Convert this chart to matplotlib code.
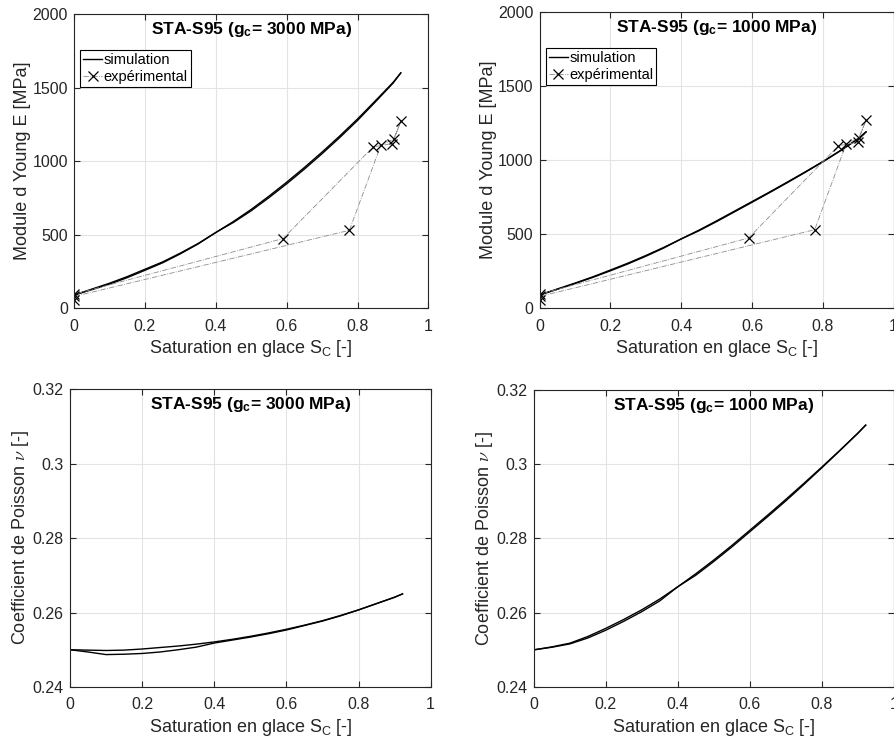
import matplotlib.pyplot as plt
import numpy as np

plt.rcParams['font.family'] = ['Liberation Sans', 'DejaVu Sans']
plt.rcParams['mathtext.fontset'] = 'cm'

# saturation grid for the simulations
S_sim = [0, 0.05, 0.1, 0.15, 0.2, 0.25, 0.3, 0.35, 0.4, 0.45, 0.5,
         0.55, 0.6, 0.65, 0.7, 0.75, 0.8, 0.85, 0.9, 0.922]

# Young modulus, gc = 3000 MPa (freezing / thawing branch)
E3000_a = [90, 130, 170, 215, 265, 315, 375, 440, 515, 590, 672,
           762, 857, 957, 1062, 1172, 1287, 1410, 1535, 1600]
E3000_b = [90, 126, 164, 208, 258, 309, 370, 437, 515, 584, 663,
           752, 846, 946, 1051, 1161, 1277, 1402, 1530, 1600]

# Young modulus, gc = 1000 MPa
E1000_a = [90, 130, 170, 212, 258, 305, 356, 410, 468, 527, 590,
           655, 720, 785, 852, 920, 990, 1065, 1145, 1190]
E1000_b = [90, 128, 167, 208, 253, 300, 351, 406, 468, 523, 585,
           650, 715, 781, 848, 917, 988, 1063, 1144, 1190]

# Poisson ratio, gc = 3000 MPa
nu3000_a = [0.25, 0.2499, 0.2498, 0.2499, 0.2502, 0.2506, 0.2510, 0.2515, 0.2521, 0.2528, 0.2536,
            0.2545, 0.2555, 0.2566, 0.2578, 0.2592, 0.2607, 0.2624, 0.2641, 0.2650]
nu3000_b = [0.25, 0.2494, 0.2487, 0.2488, 0.2490, 0.2494, 0.2500, 0.2507, 0.2518, 0.2526, 0.2534,
            0.2543, 0.2553, 0.2565, 0.2577, 0.2591, 0.2607, 0.2624, 0.2641, 0.2650]

# Poisson ratio, gc = 1000 MPa
nu1000_a = [0.25, 0.2508, 0.2518, 0.2536, 0.2558, 0.2582, 0.2608, 0.2637, 0.2670, 0.2705, 0.2742,
            0.2781, 0.2822, 0.2863, 0.2905, 0.2948, 0.2992, 0.3037, 0.3083, 0.3105]
nu1000_b = [0.25, 0.2507, 0.2516, 0.2532, 0.2553, 0.2577, 0.2603, 0.2632, 0.2670, 0.2701, 0.2738,
            0.2777, 0.2818, 0.2859, 0.2901, 0.2945, 0.2990, 0.3036, 0.3083, 0.3105]

# experimental points (path order of the test)
S_exp = [0, 0, 0.59, 0.844, 0.898, 0.922, 0.902, 0.866, 0.777, 0]
E_exp = [55, 95, 474, 1097, 1120, 1270, 1150, 1110, 530, 80]

titles = ['STA-S95 (g$\\mathregular{_c}$= 3000 MPa)', 'STA-S95 (g$\\mathregular{_c}$= 1000 MPa)']
xlab = 'Saturation en glace S$\\mathregular{_C}$ [-]'

fig = plt.figure(figsize=(8.95, 7.41), dpi=100)
ax1 = fig.add_axes([0.0827, 0.584, 0.396, 0.397])
ax2 = fig.add_axes([0.603, 0.584, 0.3955, 0.400])
ax3 = fig.add_axes([0.0782, 0.0729, 0.403, 0.402])
ax4 = fig.add_axes([0.5966, 0.0729, 0.402, 0.401])

def style(ax, title):
    ax.grid(True, color='#e3e3e3', lw=0.8)
    ax.set_axisbelow(True)
    ax.tick_params(direction='in', top=True, right=True, labelsize=11.5,
                   colors='#262626', length=4)
    ax.tick_params(axis='x', pad=7.5)
    ax.tick_params(axis='y', pad=4.5)
    for s in ax.spines.values():
        s.set_color('#262626')
        s.set_linewidth(0.8)
    ax.text(0.5, 0.98, title, transform=ax.transAxes, ha='center', va='top',
            fontsize=12.5, fontweight='bold')
    ax.set_xlim(0, 1)
    ax.set_xticks([0, 0.2, 0.4, 0.6, 0.8, 1])
    ax.set_xticklabels(['0', '0.2', '0.4', '0.6', '0.8', '1'])
    ax.set_xlabel(xlab, fontsize=13, color='#262626', labelpad=3)

for ax, Ea, Eb, t in [(ax1, E3000_a, E3000_b, titles[0]), (ax2, E1000_a, E1000_b, titles[1])]:
    ax.plot(S_sim, Ea, color='k', lw=1, label='simulation')
    ax.plot(S_sim, Eb, color='k', lw=1)
    ax.plot(S_exp, E_exp, color='#8c8c8c', lw=0.6, ls='-.')
    ax.plot(S_exp, E_exp, ls='none', marker='x', ms=7.5, mew=0.9, color='k')
    # legend proxy
    h1, = ax.plot([], [], color='k', lw=1)
    h2, = ax.plot([], [], color='#8c8c8c', lw=0.6, ls='-.', marker='x', mec='k', ms=7, mew=0.9)
    leg = ax.legend([h1, h2], ['simulation', 'expérimental'], loc='upper left',
                    bbox_to_anchor=(0.005, 0.893), fontsize=10.5, fancybox=False,
                    edgecolor='k', framealpha=1, handlelength=1.3, handletextpad=0.1,
                    borderpad=0.2, labelspacing=0.2, borderaxespad=0.3)
    leg.get_frame().set_linewidth(0.8)
    ax.set_ylim(0, 2000)
    ax.set_yticks([0, 500, 1000, 1500, 2000])
    ax.set_ylabel('Module d Young E [MPa]', fontsize=13, color='#262626', labelpad=1)
    style(ax, t)

for ax, na, nb, t in [(ax3, nu3000_a, nu3000_b, titles[0]), (ax4, nu1000_a, nu1000_b, titles[1])]:
    ax.plot(S_sim, na, color='k', lw=1)
    ax.plot(S_sim, nb, color='k', lw=1)
    ax.set_ylim(0.24, 0.32)
    ax.set_yticks([0.24, 0.26, 0.28, 0.3, 0.32])
    ax.set_yticklabels(['0.24', '0.26', '0.28', '0.3', '0.32'])
    ax.set_ylabel('Coefficient de Poisson $\\nu$ [-]', fontsize=13, color='#262626', labelpad=1)
    style(ax, t)

plt.savefig('out.png', dpi=100)
